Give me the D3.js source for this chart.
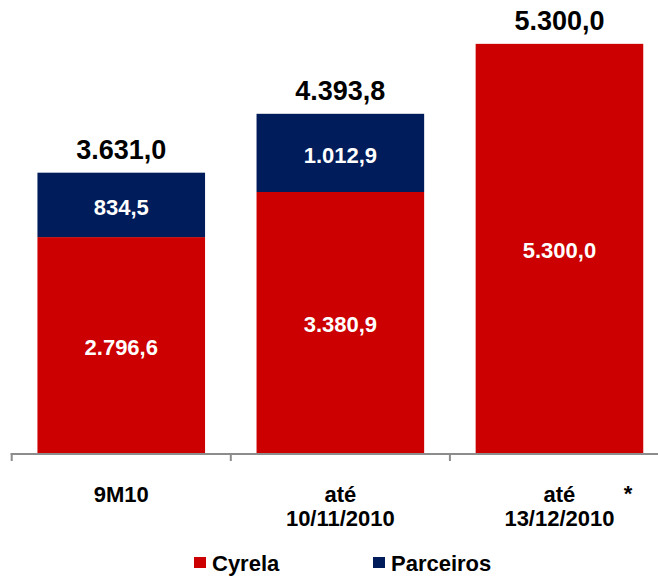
<!DOCTYPE html>
<html>
<head>
<meta charset="utf-8">
<script src="https://cdn.jsdelivr.net/npm/d3@7"></script>
<style>
  body { margin: 0; background: #fff; }
  text { font-family: "Liberation Sans", Arial, sans-serif; font-weight: bold; }
</style>
</head>
<body>
<svg id="chart" width="658" height="577"></svg>
<script>
// dimensions of the svg
var width = 658, height = 577;

// data
var categories = ['9M10', 'até\n10/11/2010', 'até\n13/12/2010'];
var cyrela = [2796.6, 3380.9, 5300.0];
var parceiros = [834.5, 1012.9, 0];
var totals = [3631.0, 4393.8, 5300.0];
var seriesNames = ['Cyrela', 'Parceiros'];
var colors = ['#cc0000', '#001c5a'];

var br = d3.formatLocale({decimal: ',', thousands: '.', grouping: [3], currency: ['R$', '']});
var fmt = br.format(',.1f');

var svg = d3.select('#chart');

var x = d3.scaleBand()
    .domain(categories)
    .range([11.7, 669])
    .paddingInner(0.235)
    .paddingOuter(0.1175);

var y = d3.scaleLinear()
    .domain([0, 5868])
    .range([453, 0]);

// stacked rows
var rows = categories.map(function(c, i) {
  return {cat: c, Cyrela: cyrela[i], Parceiros: parceiros[i], total: totals[i]};
});
var stack = d3.stack().keys(seriesNames)(rows);

var layers = svg.append('g').selectAll('g')
    .data(stack)
    .enter().append('g')
    .attr('fill', function(d, i) { return colors[i]; });

layers.selectAll('rect')
    .data(function(d) { return d; })
    .enter().append('rect')
    .attr('x', function(d) { return x(d.data.cat); })
    .attr('width', x.bandwidth())
    .attr('y', function(d) { return y(d[1]); })
    .attr('height', function(d) { return y(d[0]) - y(d[1]); });

// values inside segments
layers.selectAll('text')
    .data(function(d) { return d.filter(function(s) { return s[1] - s[0] > 0; }); })
    .enter().append('text')
    .attr('x', function(d) { return x(d.data.cat) + x.bandwidth() / 2; })
    .attr('y', function(d) { return (y(d[0]) + y(d[1])) / 2; })
    .attr('dy', '0.44em')
    .attr('text-anchor', 'middle')
    .attr('fill', '#fff')
    .style('font-size', '22px')
    .text(function(d) { return fmt(d[1] - d[0]); });

// totals on top
svg.append('g').selectAll('text')
    .data(rows)
    .enter().append('text')
    .attr('x', function(d) { return x(d.cat) + x.bandwidth() / 2; })
    .attr('y', function(d) { return y(d.total) - 14; })
    .attr('text-anchor', 'middle')
    .attr('fill', '#000')
    .style('font-size', '27px')
    .text(function(d) { return fmt(d.total); });

// axis line and ticks at band edges
var step = x.step();
var edges = categories.map(function(c) { return x(c) - step * x.paddingInner() / 2; });
var axis = svg.append('g').attr('stroke', '#8c8c8c').attr('stroke-width', 2);
axis.append('line')
    .attr('x1', edges[0] - 1).attr('x2', width)
    .attr('y1', y(0) + 1).attr('y2', y(0) + 1);
axis.selectAll('.tick')
    .data(edges)
    .enter().append('line')
    .attr('x1', function(d) { return d; }).attr('x2', function(d) { return d; })
    .attr('y1', y(0)).attr('y2', y(0) + 8);

// category labels
var labels = svg.append('g').selectAll('text')
    .data(categories)
    .enter().append('text')
    .attr('text-anchor', 'middle')
    .attr('fill', '#000')
    .style('font-size', '22px');
labels.selectAll('tspan')
    .data(function(d) { return d.split('\n').map(function(t) { return {t: t, c: d}; }); })
    .enter().append('tspan')
    .attr('x', function(d) { return x(d.c) + x.bandwidth() / 2; })
    .attr('y', function(d, i) { return 502 + i * 24; })
    .text(function(d) { return d.t; });

svg.append('text')
    .attr('x', 628).attr('y', 501)
    .attr('text-anchor', 'middle')
    .style('font-size', '22px')
    .text('*');

// legend
var legendX = [194, 373];
var legend = svg.append('g').selectAll('g')
    .data(seriesNames)
    .enter().append('g')
    .attr('transform', function(d, i) { return 'translate(' + legendX[i] + ',557)'; });
legend.append('rect')
    .attr('width', 12).attr('height', 11)
    .attr('fill', function(d, i) { return colors[i]; });
legend.append('text')
    .attr('x', 18).attr('y', 14)
    .style('font-size', '22px')
    .text(function(d) { return d; });
</script>
</body>
</html>
